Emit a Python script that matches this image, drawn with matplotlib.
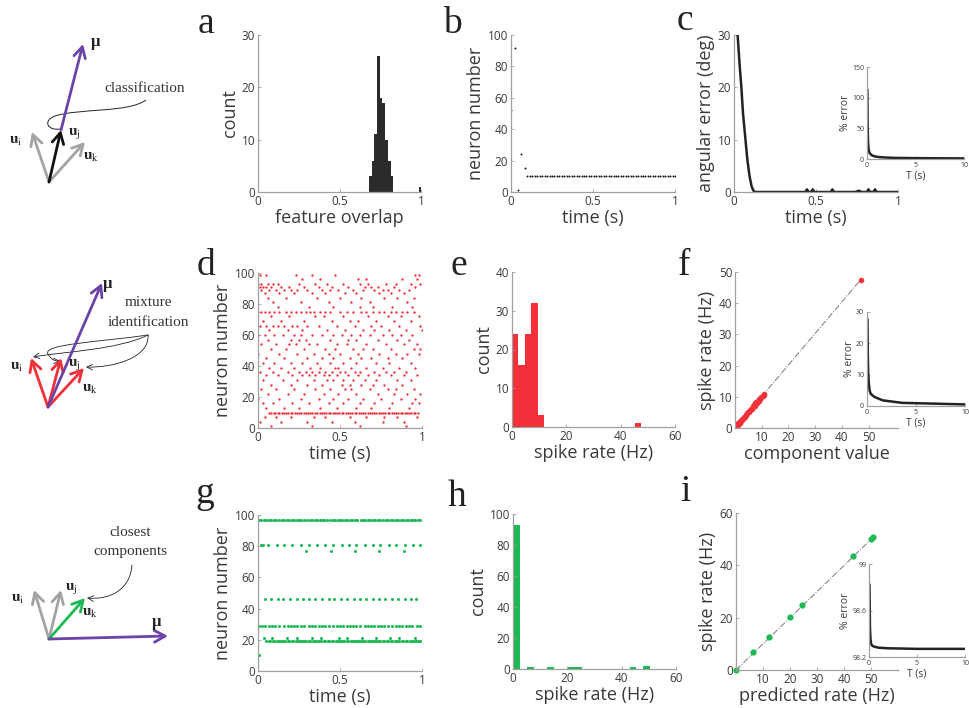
import numpy as np
import matplotlib
matplotlib.use('Agg')
import matplotlib.pyplot as plt
from matplotlib.path import Path
from matplotlib.patches import FancyArrowPatch, PathPatch

plt.rcParams['font.family'] = ['Open Sans', 'DejaVu Sans']
plt.rcParams['mathtext.fontset'] = 'stix'

# ---------------- data ----------------
# a: feature overlap histogram
a_centers = [0.688, 0.705, 0.722, 0.738, 0.755, 0.772, 0.788, 0.805, 0.822, 0.996]
a_counts = [3, 6, 11, 26, 18, 17, 10, 6, 3, 1]

# b: raster (time, neuron)
b_early_t = [0.0, 0.026, 0.043, 0.063, 0.083]
b_early_n = [52, 92, 1, 24, 15]
b_row_n = 10
b_row_t = [0.1, 0.115, 0.13, 0.145, 0.16, 0.175, 0.19, 0.205, 0.22, 0.235, 0.25, 0.265,
           0.28, 0.295, 0.31, 0.325, 0.34, 0.355, 0.37, 0.385, 0.4, 0.415, 0.43, 0.445,
           0.46, 0.475, 0.49, 0.505, 0.52, 0.535, 0.55, 0.565, 0.58, 0.595, 0.61, 0.625,
           0.64, 0.655, 0.67, 0.685, 0.7, 0.715, 0.73, 0.745, 0.76, 0.775, 0.79, 0.805,
           0.82, 0.835, 0.85, 0.865, 0.88, 0.895, 0.91, 0.925, 0.94, 0.955, 0.97, 0.985, 1.0]

# c: angular error
c_t = [0.022, 0.035, 0.045, 0.055, 0.07, 0.082, 0.095, 0.108, 0.12, 0.13, 0.435, 0.445,
       0.455, 0.47, 0.48, 0.49, 0.59, 0.6, 0.61, 0.74, 0.76, 0.78, 0.81, 0.82, 0.83,
       0.85, 0.86, 0.87, 1.0]
c_err = [30, 24, 20, 15, 10, 6, 3, 1, 0.2, 0, 0, 0.5, 0, 0, 0.5, 0, 0, 0.5, 0, 0, 0.25,
         0, 0, 0.5, 0, 0, 0.5, 0, 0]
c_in_T = [0.04, 0.06, 0.1, 0.15, 0.2, 0.3, 0.5, 0.8, 1.2, 2, 3, 5, 7, 10]
c_in_err = [112, 60, 30, 18, 13, 9, 6, 4.2, 3.2, 2.3, 1.8, 1.4, 1.2, 1.0]

# d: raster, neuron -> spike times
d_spikes = {
    99: [0.01, 0.05, 0.23, 0.33, 0.47, 0.96, 0.98],
    96: [0.27, 0.38, 0.61, 0.66, 0.88, 0.97],
    93: [0.0, 0.02, 0.06, 0.09, 0.12, 0.25, 0.35, 0.42, 0.52, 0.62, 0.67, 0.78, 0.84, 0.93, 0.99],
    91: [0.01, 0.03, 0.05, 0.08, 0.14, 0.19, 0.28, 0.37, 0.45, 0.55, 0.65, 0.69, 0.73, 0.83, 0.96],
    89: [0.02, 0.07, 0.11, 0.16, 0.2, 0.24, 0.3, 0.39, 0.44, 0.49, 0.58, 0.64, 0.71, 0.76, 0.79, 0.86, 0.92],
    87: [0.04, 0.13, 0.22, 0.33, 0.41, 0.53, 0.6, 0.74, 0.81, 0.89],
    84: [0.06, 0.17, 0.36, 0.5, 0.63, 0.77, 0.85, 0.95],
    81: [0.09, 0.26, 0.43, 0.57, 0.68, 0.91],
    78: [0.12, 0.31, 0.46, 0.62, 0.7, 0.82, 0.94],
    75: [0.0, 0.02, 0.04, 0.07, 0.1, 0.13, 0.17, 0.2, 0.23, 0.26, 0.29, 0.32, 0.34, 0.38, 0.41,
         0.44, 0.5, 0.54, 0.58, 0.63, 0.66, 0.7, 0.74, 0.77, 0.81, 0.84, 0.88, 0.91, 0.95],
    72: [0.08, 0.19, 0.35, 0.4, 0.52, 0.67, 0.79, 0.87, 0.98],
    69: [0.03, 0.14, 0.28, 0.45, 0.56, 0.61, 0.72, 0.83, 0.93],
    66: [0.01, 0.05, 0.09, 0.12, 0.16, 0.21, 0.24, 0.3, 0.37, 0.48, 0.59, 0.69, 0.75, 0.86, 0.99],
    63: [0.07, 0.18, 0.27, 0.42, 0.53, 0.64, 0.71, 0.8, 0.9, 1.0],
    60: [0.0, 0.04, 0.1, 0.15, 0.22, 0.26, 0.33, 0.39, 0.46, 0.51, 0.57, 0.62, 0.68, 0.76, 0.82, 0.87, 0.94],
    57: [0.06, 0.2, 0.25, 0.29, 0.44, 0.55, 0.6, 0.73, 0.85, 0.92],
    54: [0.02, 0.11, 0.19, 0.23, 0.31, 0.36, 0.48, 0.54, 0.66, 0.78, 0.89, 0.97],
    51: [0.08, 0.17, 0.28, 0.41, 0.47, 0.58, 0.64, 0.7, 0.81, 0.95, 0.99],
    48: [0.0, 0.13, 0.24, 0.34, 0.43, 0.5, 0.61, 0.74, 0.84, 0.91, 0.98],
    45: [0.05, 0.16, 0.3, 0.39, 0.46, 0.56, 0.63, 0.69, 0.79, 0.88],
    42: [0.03, 0.1, 0.2, 0.27, 0.36, 0.44, 0.52, 0.6, 0.72, 0.8, 0.93],
    39: [0.07, 0.14, 0.22, 0.32, 0.38, 0.47, 0.49, 0.57, 0.66, 0.76, 0.86, 0.96],
    36: [0.01, 0.09, 0.18, 0.25, 0.29, 0.33, 0.37, 0.41, 0.45, 0.5, 0.53, 0.59, 0.62, 0.71, 0.78, 0.83, 0.9],
    34: [0.05, 0.12, 0.21, 0.27, 0.31, 0.35, 0.4, 0.43, 0.48, 0.55, 0.61, 0.67, 0.74, 0.81, 0.89, 0.97],
    31: [0.03, 0.15, 0.24, 0.34, 0.42, 0.46, 0.52, 0.58, 0.65, 0.72, 0.85, 0.93],
    28: [0.08, 0.2, 0.3, 0.39, 0.51, 0.56, 0.63, 0.7, 0.77, 0.88],
    25: [0.02, 0.11, 0.22, 0.35, 0.44, 0.53, 0.57, 0.68, 0.79, 0.84, 0.95],
    22: [0.06, 0.18, 0.28, 0.4, 0.49, 0.6, 0.73, 0.83, 0.91, 0.99],
    19: [0.0, 0.13, 0.26, 0.37, 0.46, 0.55, 0.64, 0.75, 0.87, 0.96],
    16: [0.03, 0.09, 0.21, 0.31, 0.43, 0.52, 0.62, 0.71, 0.82, 0.94, 0.98],
    13: [0.05, 0.16, 0.25, 0.38, 0.48, 0.6, 0.69, 0.8, 0.92],
    10: [0.07, 0.08, 0.095, 0.105, 0.12, 0.13, 0.145, 0.16, 0.17, 0.185, 0.2, 0.21, 0.225, 0.24,
         0.25, 0.265, 0.28, 0.29, 0.305, 0.32, 0.33, 0.345, 0.36, 0.375, 0.39, 0.4, 0.415, 0.43,
         0.44, 0.455, 0.47, 0.48, 0.495, 0.51, 0.52, 0.535, 0.55, 0.56, 0.575, 0.59, 0.6, 0.615,
         0.63, 0.64, 0.655, 0.67, 0.68, 0.695, 0.71, 0.72, 0.735, 0.75, 0.76, 0.775, 0.79, 0.8,
         0.815, 0.83, 0.84, 0.855, 0.87, 0.88, 0.895, 0.91, 0.92, 0.935, 0.95, 0.96, 0.975],
    7: [0.04, 0.11, 0.2, 0.34, 0.41, 0.56, 0.66, 0.77, 0.85, 0.97],
    4: [0.01, 0.14, 0.3, 0.45, 0.59, 0.76, 0.89],
    1: [0.08, 0.33, 0.62, 0.9],
}

# e: spike-rate histogram (20 bins from 0 to max rate)
e_max_rate = 47.6
e_counts = [24, 16, 24, 32, 3, 0, 0, 0, 0, 0, 0, 0, 0, 0, 0, 0, 0, 0, 0, 1]

# f: component value vs spike rate
f_x = [0.3, 0.6, 1.0, 1.3, 1.7, 2.0, 2.3, 2.6, 3.0, 3.3, 3.7, 4.0, 4.3, 4.6, 5.0, 5.3, 5.6,
       6.0, 6.3, 6.6, 7.0, 7.3, 7.6, 8.0, 8.2, 8.5, 8.8, 9.1, 9.4, 9.8, 10.3, 10.8, 11.0, 47.0]
f_y = [0.2, 0.8, 0.9, 1.5, 1.6, 2.2, 2.1, 2.8, 2.9, 3.5, 3.6, 4.3, 4.1, 4.9, 5.2, 5.0, 5.9,
       6.1, 6.0, 6.9, 7.3, 7.0, 7.9, 8.3, 7.9, 8.8, 8.6, 9.4, 9.2, 10.0, 10.4, 10.9, 10.6, 47.5]
f_in_T = [0.05, 0.08, 0.12, 0.18, 0.26, 0.4, 0.76, 1.6, 3.6, 6.9, 10]
f_in_err = [27.5, 17, 11, 7.5, 5, 3.8, 2.9, 1.8, 1.0, 0.75, 0.5]

# g: raster rows
g_spikes = {
    97: [0.005, 0.02, 0.035, 0.05, 0.065, 0.08, 0.095, 0.11, 0.13, 0.145, 0.16, 0.175, 0.19,
         0.205, 0.22, 0.235, 0.25, 0.265, 0.28, 0.3, 0.315, 0.33, 0.345, 0.36, 0.375, 0.39,
         0.405, 0.42, 0.44, 0.455, 0.47, 0.485, 0.5, 0.515, 0.53, 0.545, 0.56, 0.575, 0.59,
         0.605, 0.625, 0.64, 0.655, 0.67, 0.685, 0.7, 0.715, 0.73, 0.745, 0.76, 0.78, 0.795,
         0.81, 0.825, 0.84, 0.855, 0.87, 0.885, 0.9, 0.915, 0.93, 0.945, 0.96, 0.975, 0.99],
    81: [0.02, 0.03, 0.06, 0.115, 0.16, 0.21, 0.265, 0.31, 0.36, 0.41, 0.455, 0.51, 0.555,
         0.6, 0.65, 0.7, 0.745, 0.8, 0.84, 0.895, 0.945, 0.99],
    77: [0.29, 0.445, 0.59, 0.74, 0.89],
    46: [0.04, 0.08, 0.12, 0.155, 0.195, 0.235, 0.275, 0.31, 0.35, 0.39, 0.43, 0.465, 0.505,
         0.545, 0.585, 0.62, 0.66, 0.7, 0.74, 0.775, 0.815, 0.855, 0.895, 0.93, 0.965],
    29: [0.005, 0.025, 0.045, 0.065, 0.085, 0.105, 0.125, 0.16, 0.18, 0.2, 0.22, 0.24, 0.26,
         0.28, 0.31, 0.33, 0.35, 0.37, 0.39, 0.41, 0.43, 0.46, 0.48, 0.5, 0.52, 0.54, 0.56,
         0.58, 0.6, 0.62, 0.65, 0.67, 0.69, 0.71, 0.73, 0.75, 0.77, 0.79, 0.82, 0.84, 0.86,
         0.88, 0.9, 0.92, 0.94, 0.97, 0.99],
    21: [0.035, 0.085, 0.177, 0.238, 0.33, 0.386, 0.492, 0.543, 0.634, 0.72, 0.803, 0.862, 0.955],
    19: [0.05, 0.065, 0.075, 0.09, 0.1, 0.115, 0.125, 0.14, 0.15, 0.165, 0.18, 0.19, 0.205,
         0.215, 0.23, 0.245, 0.255, 0.27, 0.28, 0.295, 0.31, 0.32, 0.335, 0.345, 0.36, 0.37,
         0.385, 0.4, 0.41, 0.425, 0.435, 0.45, 0.46, 0.475, 0.49, 0.5, 0.515, 0.525, 0.54,
         0.55, 0.565, 0.58, 0.59, 0.605, 0.615, 0.63, 0.64, 0.655, 0.67, 0.68, 0.695, 0.705,
         0.72, 0.73, 0.745, 0.76, 0.77, 0.785, 0.795, 0.81, 0.82, 0.835, 0.85, 0.86, 0.875,
         0.885, 0.9, 0.91, 0.925, 0.94, 0.95, 0.965, 0.975, 0.99],
    10: [0.004],
}

# h: spike-rate histogram (20 bins from 0 to max rate)
h_max_rate = 50.5
h_counts = [93, 0, 1, 0, 0, 1, 0, 0, 1, 1, 0, 0, 0, 0, 0, 0, 0, 1, 0, 2]

# i: predicted vs measured rate
i_x = [0.0, 6.3, 12.2, 20.1, 24.5, 43.2, 50.0, 50.9]
i_y = [0.0, 6.8, 12.8, 20.4, 24.9, 43.7, 50.1, 50.8]
i_in_T = [0.05, 0.08, 0.1, 0.15, 0.2, 0.3, 0.5, 1, 2, 5, 10]
i_in_err = [98.82, 98.6, 98.45, 98.36, 98.32, 98.3, 98.29, 98.28, 98.275, 98.27, 98.27]

# ---------------- figure ----------------
W, H = 969, 708
fig = plt.figure(figsize=(W / 100, H / 100), dpi=100)

AX_COL = '#a0a0a0'
TXT_COL = '#3a3a3a'
RED = '#f2303a'
GREEN = '#1db954'
PURPLE = '#6a44a6'
GRAY = '#a3a3a3'


def add_ax(L, T, R, B):
    return fig.add_axes([L / W, 1 - B / H, (R - L) / W, (B - T) / H])


def style(ax, xlim, ylim, xticks, yticks, xlabel, ylabel, xtl=None, ytl=None,
          fs_tick=8.5, fs_lab=13, xpad=1, ypad=2):
    ax.set_xlim(*xlim)
    ax.set_ylim(*ylim)
    ax.set_xticks(xticks)
    ax.set_yticks(yticks)
    if xtl is not None:
        ax.set_xticklabels(xtl)
    if ytl is not None:
        ax.set_yticklabels(ytl)
    for s in ['top', 'right']:
        ax.spines[s].set_visible(False)
    for s in ['left', 'bottom']:
        ax.spines[s].set_color(AX_COL)
        ax.spines[s].set_linewidth(0.9)
    ax.tick_params(direction='in', length=2, width=0.6, color=AX_COL,
                   labelsize=fs_tick, labelcolor=TXT_COL, pad=2)
    ax.set_xlabel(xlabel, fontsize=fs_lab, color=TXT_COL, labelpad=xpad)
    ax.set_ylabel(ylabel, fontsize=fs_lab, color=TXT_COL, labelpad=ypad)
    ax.patch.set_alpha(0)


# overlay for diagrams
ov = fig.add_axes([0, 0, 1, 1])
ov.set_xlim(0, W)
ov.set_ylim(H, 0)
ov.axis('off')


def arrow(o, tip, col, lw=2.0):
    ov.annotate('', xy=tip, xytext=o,
                arrowprops=dict(arrowstyle='->,head_length=0.55,head_width=0.3',
                                lw=lw, color=col, shrinkA=0, shrinkB=0,
                                mutation_scale=14))


def ulabel(x, y, sub):
    ov.text(x, y, r'$\mathbf{u}_{\mathrm{' + sub + '}}$', fontsize=11, color='#222222',
            ha='center', va='center')


def mulabel(x, y):
    ov.text(x, y, 'μ', fontsize=12, color='#222222', ha='center', va='center',
            family='Liberation Serif', fontweight='bold')


SERIF = 'Liberation Serif'

# Diagram 1
o1 = (49, 182)
arrow(o1, (32, 132), GRAY)
arrow(o1, (85, 142), GRAY)
arrow(o1, (61, 130), '#111111')
arrow((61, 130), (83, 44), PURPLE)
mulabel(96, 42)
ulabel(16, 141, 'i')
ulabel(74, 134, 'j')
ulabel(91, 157, 'k')
ov.text(145, 88, 'classification', family=SERIF, fontsize=11, color='#333333',
        ha='center', va='center')
p1 = Path([(146, 100), (128, 113), (80, 108), (55, 116), (42, 121), (48, 131), (60, 129)],
          [Path.MOVETO, Path.CURVE4, Path.CURVE4, Path.CURVE4, Path.CURVE4, Path.CURVE4, Path.CURVE4])
ov.add_patch(PathPatch(p1, fill=False, lw=0.7, color='#222222'))

# Diagram 2
o2 = (48, 407)
arrow(o2, (31, 358), RED)
arrow(o2, (61, 358), RED)
arrow(o2, (84, 368), RED)
arrow(o2, (102, 283), PURPLE)
mulabel(108, 284)
ulabel(17, 367, 'i')
ulabel(74, 365, 'j')
ulabel(90, 388, 'k')
ov.text(148, 302, 'mixture', family=SERIF, fontsize=11, color='#333333', ha='center', va='center')
ov.text(148, 322, 'identification', family=SERIF, fontsize=11, color='#333333', ha='center', va='center')
curves2 = [
    Path([(148, 335), (118, 350), (60, 352), (33, 357)], [Path.MOVETO] + [Path.CURVE4] * 3),
    Path([(148, 335), (100, 342), (42, 344), (48, 354), (52, 361), (56, 361), (60, 361)],
         [Path.MOVETO] + [Path.CURVE4] * 6),
    Path([(148, 335), (150, 358), (112, 368), (86, 367)], [Path.MOVETO] + [Path.CURVE4] * 3),
]
for pth in curves2:
    ov.add_patch(FancyArrowPatch(path=pth, arrowstyle='->,head_length=0.4,head_width=0.2',
                                 mutation_scale=10, lw=0.6, color='#222222'))

# Diagram 3
o3 = (49, 639)
arrow(o3, (34, 590), GRAY)
arrow(o3, (61, 590), GRAY)
arrow(o3, (85, 598), GREEN)
arrow(o3, (168, 636), PURPLE)
mulabel(157, 622)
ulabel(18, 598, 'i')
ulabel(71, 588, 'j')
ulabel(90, 613, 'k')
ov.text(130, 533, 'closest', family=SERIF, fontsize=11, color='#333333', ha='center', va='center')
ov.text(130, 552, 'components', family=SERIF, fontsize=11, color='#333333', ha='center', va='center')
p3 = Path([(132, 565), (130, 590), (110, 600), (87, 598)], [Path.MOVETO] + [Path.CURVE4] * 3)
ov.add_patch(FancyArrowPatch(path=p3, arrowstyle='->,head_length=0.4,head_width=0.2',
                             mutation_scale=10, lw=0.6, color='#222222'))

# panel letters
for letter, x, y in [('a', 198, 33), ('b', 443, 33), ('c', 677, 30),
                     ('d', 197, 275), ('e', 451, 275), ('f', 678, 275),
                     ('g', 195, 503), ('h', 448, 506), ('i', 680, 501)]:
    fig.text(x / W, 1 - y / H, letter, family=SERIF, fontsize=27, color='#222222',
             va='baseline', ha='left')

# ---- a ----
ax = add_ax(258, 35, 421, 192)
ax.bar(a_centers, a_counts, width=0.0167, color='#2b2b2b', edgecolor='none')
style(ax, (0, 1), (0, 30), [0, 0.5, 1], [0, 10, 20, 30], 'feature overlap', 'count',
      xtl=['0', '0.5', '1'])

# ---- b ----
ax = add_ax(511, 35, 675, 192)
ax.plot(b_early_t, b_early_n, 'o', ms=1.4, mew=0, color='#111111')
ax.plot(b_row_t, [b_row_n] * len(b_row_t), 'o', ms=1.4, mew=0, color='#111111')
style(ax, (0, 1), (0, 100), [0, 0.5, 1], range(0, 101, 20), 'time (s)', 'neuron number',
      xtl=['0', '0.5', '1'])

# ---- c ----
ax = add_ax(734, 35, 898, 192)
ax.plot(c_t, c_err, color='#222222', lw=1.8, clip_on=True)
style(ax, (0, 1), (0, 30), [0, 0.5, 1], [0, 10, 20, 30], 'time (s)', 'angular error (deg)',
      xtl=['0', '0.5', '1'])
ax = add_ax(867, 67, 964, 159)
ax.plot(c_in_T, c_in_err, color='#222222', lw=1.8)
style(ax, (0, 10), (0, 150), [0, 5, 10], [0, 50, 100, 150], 'T (s)', '% error',
      fs_tick=5, fs_lab=7.5, xpad=1, ypad=1)

# ---- d ----
ax = add_ax(258, 273, 422, 428)
for n, ts in d_spikes.items():
    ax.plot(ts, [n] * len(ts), 'o', ms=1.7, mew=0, color=RED)
style(ax, (0, 1), (0, 100), [0, 0.5, 1], range(0, 101, 20), 'time (s)', 'neuron number',
      xtl=['0', '0.5', '1'])

# ---- e ----
ax = add_ax(512, 272, 675, 427)
e_edges = np.linspace(0, e_max_rate, len(e_counts) + 1)
ax.bar(e_edges[:-1], e_counts, width=np.diff(e_edges), align='edge', color=RED,
       edgecolor='none')
style(ax, (0, 60), (0, 40), [0, 20, 40, 60], [0, 10, 20, 30, 40], 'spike rate (Hz)', 'count')

# ---- f ----
ax = add_ax(735, 272, 898, 428)
ax.plot([0, f_x[-1]], [0, f_y[-1]], color='#777777', lw=0.7, ls='-.')
ax.plot(f_x, f_y, 'o', ms=4, mew=0, color=RED)
style(ax, (0, 61), (0, 50), [10, 20, 30, 40, 50], [0, 10, 20, 30, 40, 50],
      'component value', 'spike rate (Hz)')
ax = add_ax(867, 312, 965, 406)
ax.plot(f_in_T, f_in_err, color='#222222', lw=1.8)
style(ax, (0, 10), (0, 30), [0, 5, 10], [0, 10, 20, 30], 'T (s)', '% error',
      fs_tick=5, fs_lab=7.5, xpad=1, ypad=1)

# ---- g ----
ax = add_ax(258, 515, 422, 671)
for n, ts in g_spikes.items():
    ax.plot(ts, [n] * len(ts), 'o', ms=2.2, mew=0, color=GREEN)
style(ax, (0, 1), (0, 100), [0, 0.5, 1], range(0, 101, 20), 'time (s)', 'neuron number',
      xtl=['0', '0.5', '1'])

# ---- h ----
ax = add_ax(513, 514, 676, 669)
h_edges = np.linspace(0, h_max_rate, len(h_counts) + 1)
ax.bar(h_edges[:-1], h_counts, width=np.diff(h_edges), align='edge', color=GREEN,
       edgecolor='none')
style(ax, (0, 60), (0, 100), [0, 20, 40, 60], range(0, 101, 20), 'spike rate (Hz)', 'count')

# ---- i ----
ax = add_ax(736, 513, 898, 670)
ax.plot([0, i_x[-1]], [0, i_y[-1]], color='#777777', lw=0.7, ls='-.')
ax.plot(i_x, i_y, 'o', ms=4.5, mew=0, color=GREEN, clip_on=False)
style(ax, (0, 60), (0, 60), [10, 20, 30, 40, 50], [0, 20, 40, 60],
      'predicted rate (Hz)', 'spike rate (Hz)')
ax = add_ax(869, 564, 965, 657)
ax.plot(i_in_T, i_in_err, color='#222222', lw=1.8)
style(ax, (0, 10), (98.2, 99), [0, 5, 10], [98.2, 98.6, 99], 'T (s)', '% error',
      ytl=['98.2', '98.6', '99'], fs_tick=5, fs_lab=7.5, xpad=1, ypad=1)

fig.savefig('out.png', dpi=100)
